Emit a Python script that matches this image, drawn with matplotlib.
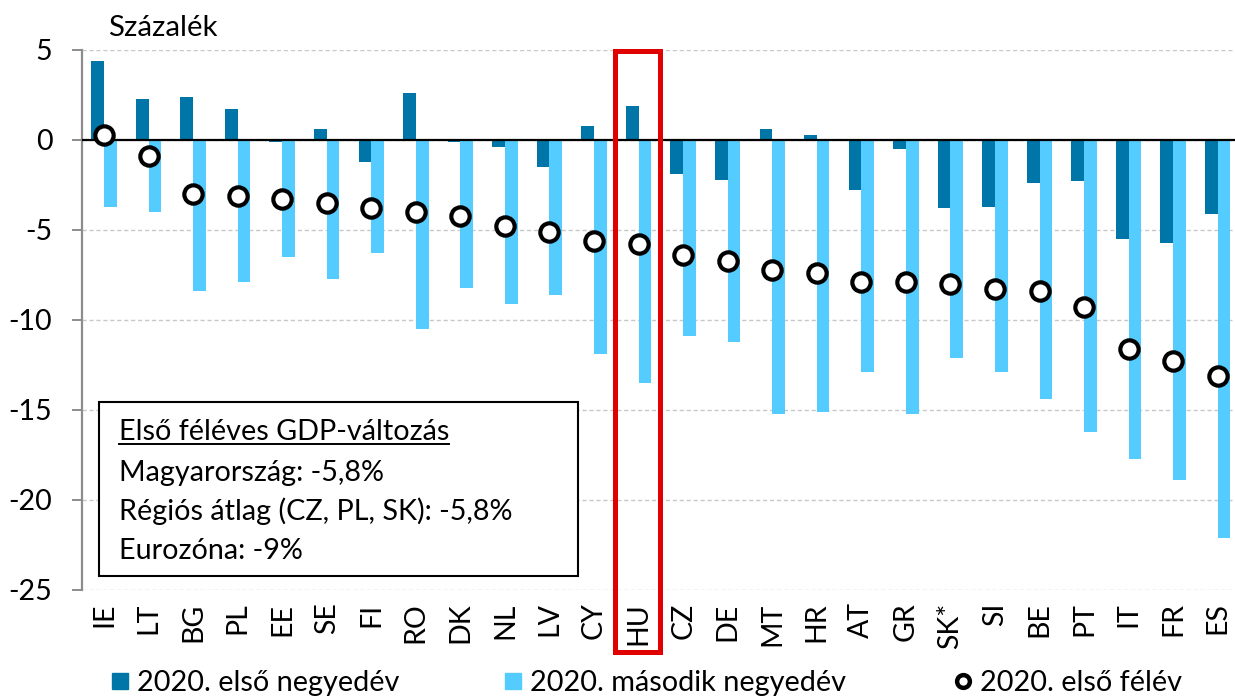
import numpy as np
from matplotlib import pyplot as plt
from matplotlib.patches import Rectangle
from matplotlib.lines import Line2D
import matplotlib.transforms as mtransforms

plt.rcParams['font.family'] = ['Lato', 'DejaVu Sans']

countries = ['IE', 'LT', 'BG', 'PL', 'EE', 'SE', 'FI', 'RO', 'DK', 'NL', 'LV', 'CY', 'HU',
             'CZ', 'DE', 'MT', 'HR', 'AT', 'GR', 'SK*', 'SI', 'BE', 'PT', 'IT', 'FR', 'ES']
q1 = [4.4, 2.3, 2.4, 1.7, -0.1, 0.6, -1.2, 2.6, -0.1, -0.4, -1.5, 0.8, 1.9,
      -1.9, -2.2, 0.6, 0.3, -2.8, -0.5, -3.8, -3.7, -2.4, -2.3, -5.5, -5.7, -4.1]
q2 = [-3.7, -4.0, -8.4, -7.9, -6.5, -7.7, -6.3, -10.5, -8.2, -9.1, -8.6, -11.9, -13.5,
      -10.9, -11.2, -15.2, -15.1, -12.9, -15.2, -12.1, -12.9, -14.4, -16.2, -17.7, -18.9, -22.1]
h1 = [0.3, -0.9, -3.0, -3.1, -3.3, -3.5, -3.8, -4.0, -4.2, -4.8, -5.1, -5.6, -5.8,
      -6.4, -6.7, -7.2, -7.4, -7.9, -7.9, -8.0, -8.3, -8.4, -9.3, -11.6, -12.3, -13.1]
yticks = [5, 0, -5, -10, -15, -20, -25]
box_lines = ['Első féléves GDP-változás', 'Magyarország: -5,8%',
             'Régiós átlag (CZ, PL, SK): -5,8%', 'Eurozóna: -9%']
legend_labels = ['2020. első negyedév', '2020. második negyedév', '2020. első félév']

dark = '#0076a8'
light = '#55ccff'
red = '#e00000'

W, H = 1235, 697
fig = plt.figure(figsize=(W / 100, H / 100), dpi=100)
ax = fig.add_axes([81.7 / W, (H - 590) / H, 1158.3 / W, 540 / H])

x = np.arange(len(countries))
w = 0.285
ax.bar(x - w / 2, q1, w, color=dark, zorder=2)
ax.bar(x + w / 2, q2, w, color=light, zorder=2)
ax.plot(x, h1, 'o', ls='none', ms=13.2, mfc='white', mec='black', mew=3.0, zorder=4)
ax.axhline(0, color='black', lw=1.6, zorder=3)

ax.set_xlim(-0.5, len(countries) - 0.5)
ax.set_ylim(-25, 5)
ax.set_yticks(yticks)
ax.set_yticklabels([str(t) for t in yticks])
ax.set_xticks(x)
ax.set_xticklabels(countries, rotation=90)
ax.yaxis.grid(True, color='#c8c8c8', lw=1.0, ls=(0, (3, 2)))
ax.set_axisbelow(True)
for s in ['top', 'right', 'bottom']:
    ax.spines[s].set_visible(False)
ax.spines['left'].set_color('#8c8c8c')
ax.spines['left'].set_linewidth(1.6)
ax.tick_params(axis='y', length=7.2, width=1.4, color='#8c8c8c', pad=14, labelsize=20.5)
ax.tick_params(axis='x', length=0, pad=9, labelsize=20.5)

fig.text(108 / W, 1 - 28 / H, 'Százalék', fontsize=21.2, va='center', ha='left')

# HU kiemelés
trans = mtransforms.blended_transform_factory(ax.transData, ax.transAxes)
ax.add_patch(Rectangle((11.47, -0.1144), 1.0, 1.113, transform=trans, fill=False,
                       ec=red, lw=3.6, clip_on=False, zorder=6))

# szöveges doboz
ax.add_patch(Rectangle((98.7 / W, (H - 576) / H), 479 / W, 173.7 / H, transform=fig.transFigure,
                       fc='white', ec='black', lw=1.5, clip_on=False, zorder=5))
baselines = [440, 481, 520, 559]
texts = []
for txt, b in zip(box_lines, baselines):
    texts.append(fig.text(119 / W, (H - b) / H, txt, fontsize=20.7, va='baseline', ha='left', zorder=7))

fig.canvas.draw()
bb = texts[0].get_window_extent()
fig.add_artist(Line2D([bb.x0 / W, bb.x1 / W], [(H - 444) / H] * 2, color='black', lw=1.4, zorder=7))

# jelmagyarázat
handles = [Line2D([], [], marker='s', ls='none', ms=11.5, color=dark),
           Line2D([], [], marker='s', ls='none', ms=11.5, color=light),
           Line2D([], [], marker='o', ls='none', ms=9.2, mfc='white', mec='black', mew=3.2)]
for hdl, lab, lx in zip(handles, legend_labels, [112, 505, 955]):
    fig.legend([hdl], [lab], loc='center left', bbox_to_anchor=(lx / W, (H - 683) / H),
               frameon=False, fontsize=20.8, borderpad=0, borderaxespad=0,
               handlelength=0.55, handletextpad=0.3)

fig.savefig('out.png', dpi=100)
